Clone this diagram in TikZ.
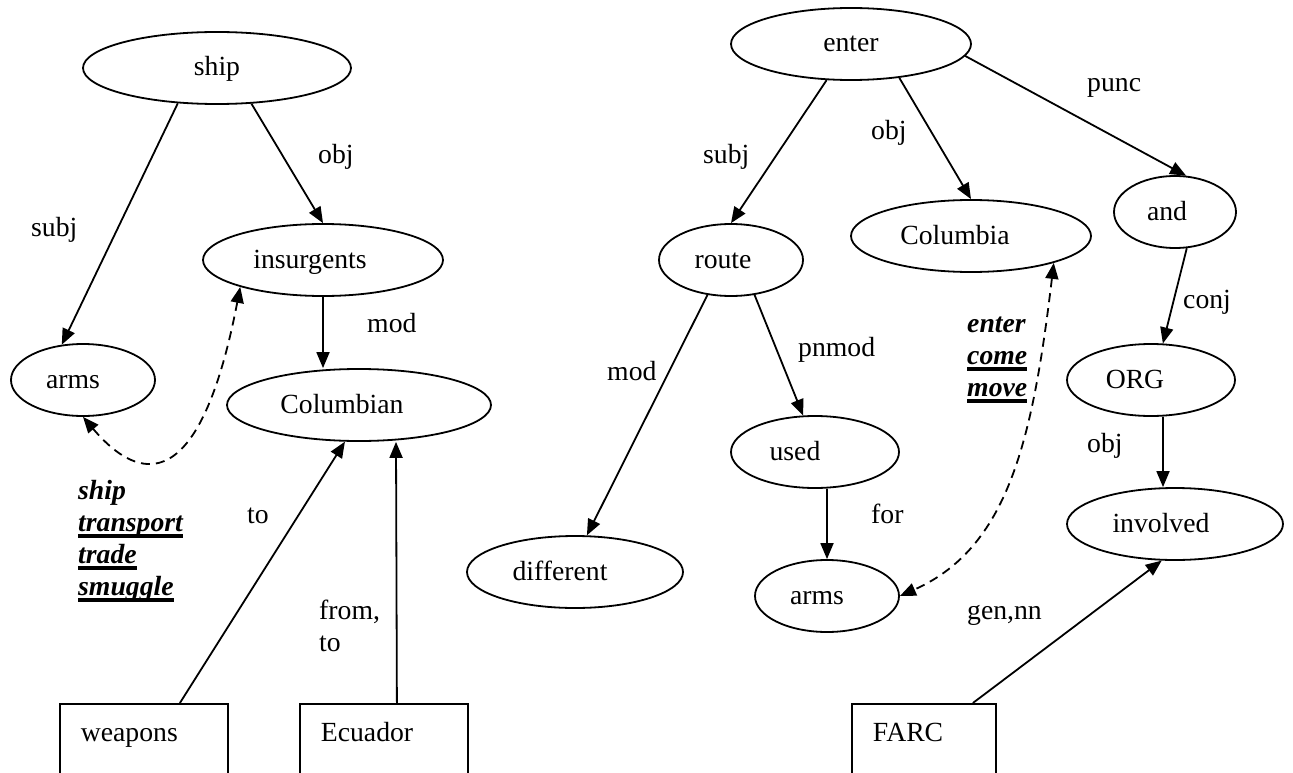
\documentclass[tikz,border=0pt]{standalone}
\usepackage{fontspec}
\setmainfont{Liberation Serif}
\usetikzlibrary{arrows.meta,shapes.geometric}
% underline with a heavy rule just below the baseline
\newcommand\ulword[1]{\setbox0\hbox{#1}\rlap{\rule[-6.5pt]{\wd0}{3.5pt}}\box0}
% shift a centred label left by half of the given space
\newcommand\txtleft[2]{#2\hspace*{#1}}

\begin{document}
\begin{tikzpicture}[x=1pt,y=-1pt,
  every node/.style={font=\fontsize{27.7}{32}\selectfont},
  word/.style={ellipse, draw, line width=1.8pt, inner sep=0pt,
    minimum width=#1, minimum height=72pt, text height=20pt, text depth=4pt},
  ent/.style={rectangle, draw, line width=1.8pt, anchor=north west,
    inner xsep=21pt, inner ysep=8pt, text height=30pt, text depth=80pt, align=left},
  dep/.style={line width=1.8pt, -{Triangle[length=16pt,width=13pt]}},
  para/.style={line width=1.8pt, dash pattern=on 9pt off 6pt,
    {Triangle[length=16pt,width=13pt]}-{Triangle[length=16pt,width=13pt]}},
  lab/.style={anchor=base west, inner sep=0pt},
  alt/.style={anchor=base west, inner sep=0pt,
    font=\fontsize{27.7}{32}\selectfont\bfseries\itshape}
]
\useasboundingbox (0,0) rectangle (1293,773);
\fill[white] (0,0) rectangle (1293,773);
\clip (0,0) rectangle (1293,773);

% ---------- left tree: ship ----------
\node[word=268pt] (ship)  at (217,68)  {ship};
\node[word=240pt] (ins)   at (323,260) {\txtleft{26pt}{insurgents}};
\node[word=144pt] (armsL) at (83,380)  {\txtleft{20pt}{arms}};
\node[word=264pt] (colm)  at (359,405) {\txtleft{34pt}{Columbian}};
\node[ent, text width=126pt] (weap) at (59,703)  {weapons};
\node[ent, text width=126pt] (ecu)  at (299,703) {Ecuador};

\draw[dep] (ship.222.6) -- (armsL.121.9);
\draw[dep] (ship.314) -- (ins.north);
\draw[dep] (ins.south) -- (ins.south |- colm.north);
\draw[dep] ([xshift=36pt]weap.north) -- (colm.249);
\draw[dep] ([xshift=13pt]ecu.north) -- ([xshift=37pt]colm.south);
\draw[para] (armsL.south) .. controls (140,484) and (200,496) .. (ins.198);

\node[lab] (lsubj) at (31,236)  {subj};
\node[lab] (lobj)  at (318,164) {obj};
\node[lab] (lmod)  at (367,332) {mod};
\node[lab] (lto)   at (247,523) {to};
\node[lab] (lfrom) at (319,619) {from,};
\node[lab] (lto2)  at (319,651) {to};

\node[alt] (va) at (78,499) {ship};
\node[alt] (vb) at (78,531) {\ulword{transport}};
\node[alt] (vc) at (78,563) {\ulword{trade}};
\node[alt] (vd) at (78,595) {\ulword{smuggle}};

% ---------- right tree: enter ----------
\node[word=240pt] (enter) at (851,44)   {enter};
\node[word=144pt] (route) at (731,260)  {\txtleft{16pt}{route}};
\node[word=240pt] (colb)  at (971,236)  {\txtleft{32pt}{Columbia}};
\node[word=122pt] (and)   at (1175,212) {\txtleft{16pt}{and}};
\node[word=168pt] (org)   at (1151,380) {\txtleft{32pt}{ORG}};
\node[word=216pt] (inv)   at (1175,524) {\txtleft{28pt}{involved}};
\node[word=216pt] (diff)  at (575,572)  {\txtleft{30pt}{different}};
\node[word=168pt] (used)  at (815,452)  {\txtleft{40pt}{used}};
\node[word=144pt] (armsR) at (827,596)  {\txtleft{20pt}{arms}};
\node[ent, text width=102pt] (farc) at (851,703) {FARC};

\draw[dep] (enter.236) -- (route.north);
\draw[dep] (enter.325) -- (colb.north);
\draw[dep] (enter.354) -- (and.73);
\draw[dep] (route.236) -- (diff.72);
\draw[dep] (route.304) -- (used.108);
\draw[dep] (armsR.north |- used.south) -- (armsR.north);
\draw[dep] (and.288) -- (org.72);
\draw[dep] ([xshift=12pt]org.south) -- ([xshift=-12pt]inv.north);
\draw[dep] ([xshift=49pt]farc.north) -- (inv.250);
\draw[para] (colb.342.6) .. controls (1032.5,441) and (1008,548) .. (armsR.east);

\node[lab] (rsubj)  at (703,164)  {subj};
\node[lab] (robj)   at (871,140)  {obj};
\node[lab] (rpunc)  at (1087,92)  {punc};
\node[lab] (rconj)  at (1183,308) {conj};
\node[lab] (rpnmod) at (798,356)  {pnmod};
\node[lab] (rmod)   at (607,380)  {mod};
\node[lab] (rfor)   at (871,523)  {for};
\node[lab] (robj2)  at (1087,452) {obj};
\node[lab] (rgen)   at (967,619)  {gen,nn};

\node[alt] (wa) at (967,332) {enter};
\node[alt] (wb) at (967,364) {\ulword{come}};
\node[alt] (wc) at (967,396) {\ulword{move}};
\end{tikzpicture}
\end{document}
